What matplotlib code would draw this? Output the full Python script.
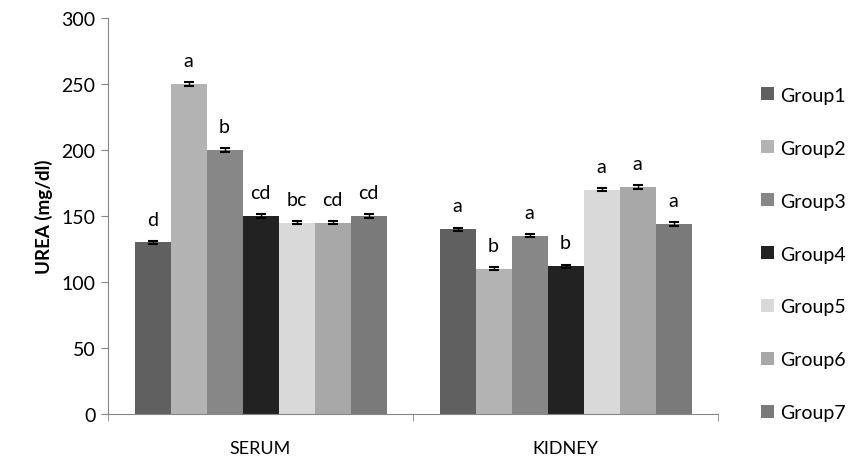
import matplotlib
matplotlib.use("Agg")
import matplotlib.pyplot as plt
import numpy as np

plt.rcParams['font.family'] = ['Lato', 'DejaVu Sans']

categories = ["SERUM", "KIDNEY"]
groups = ["Group1", "Group2", "Group3", "Group4", "Group5", "Group6", "Group7"]
values = {
    "Group1": [130, 140],
    "Group2": [250, 110],
    "Group3": [200, 135],
    "Group4": [150, 112],
    "Group5": [145, 170],
    "Group6": [145, 172],
    "Group7": [150, 144],
}
errors = {
    "Group1": [1.2, 1.2],
    "Group2": [1.2, 1.2],
    "Group3": [1.2, 1.2],
    "Group4": [1.2, 1.2],
    "Group5": [1.2, 1.2],
    "Group6": [1.2, 1.2],
    "Group7": [1.2, 1.2],
}
letters = {
    "Group1": ["d", "a"],
    "Group2": ["a", "b"],
    "Group3": ["b", "a"],
    "Group4": ["cd", "b"],
    "Group5": ["bc", "a"],
    "Group6": ["cd", "a"],
    "Group7": ["cd", "a"],
}
colors = ["#606060", "#b3b3b3", "#878787", "#222222", "#d9d9d9", "#a8a8a8", "#7a7a7a"]

fig = plt.figure(figsize=(8.6, 4.64), dpi=100)
ax = fig.add_axes([0.1256, 0.1056, 0.835 - 0.1256, 0.959 - 0.1056])

centers = np.arange(len(categories)) + 0.5
bw = 0.118
n = len(groups)
for i, g in enumerate(groups):
    x = centers + (i - (n - 1) / 2) * bw
    ax.bar(x, values[g], width=bw, color=colors[i], label=g, edgecolor='none')
    ax.errorbar(x, values[g], yerr=errors[g], fmt='none', ecolor='black',
                elinewidth=1, capsize=3.5, capthick=1.5)
    for xi, v, e, t in zip(x, values[g], errors[g], letters[g]):
        ax.text(xi, v + e + 10, t, ha='center', va='bottom', fontsize=14, color='black')

ax.set_xlim(0, 2)
ax.set_ylim(0, 300)
ax.set_yticks(np.arange(0, 301, 50))
ax.set_xticks(centers)
ax.set_xticklabels(categories, fontsize=13)
ax.set_xticks([0, 1, 2], minor=True)
ax.tick_params(axis='x', which='major', length=0, pad=19)
ax.tick_params(axis='x', which='minor', length=5, color='#868686')
ax.tick_params(axis='y', length=5, color='#868686', labelsize=14, pad=4)
for s in ['top', 'right']:
    ax.spines[s].set_visible(False)
for s in ['left', 'bottom']:
    ax.spines[s].set_color('#868686')
ax.set_ylabel("UREA (mg/dl)", fontsize=13.5, fontweight='bold', labelpad=6)

fig.legend(loc='upper left', bbox_to_anchor=(0.876, 0.828), frameon=False,
           fontsize=14, handlelength=0.65, handleheight=0.65, handletextpad=0.35,
           labelspacing=1.85, borderaxespad=0)

fig.savefig("out.png", dpi=100)
